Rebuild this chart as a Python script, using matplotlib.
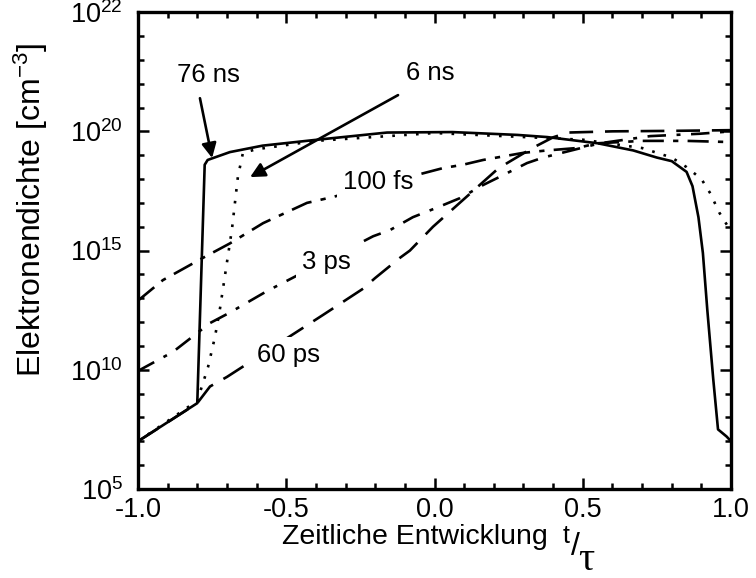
import numpy as np
import matplotlib
matplotlib.use("Agg")
import matplotlib.pyplot as plt
from matplotlib.ticker import FixedLocator, NullFormatter

plt.rcParams["font.family"] = ["Liberation Sans", "DejaVu Sans"]
plt.rcParams["mathtext.fontset"] = "custom"
plt.rcParams["mathtext.rm"] = "Liberation Sans"
plt.rcParams["mathtext.it"] = "Liberation Sans:italic"

# ---- data: t/tau and log10 of electron density [cm^-3] -----------------
x_76ns = [-1.0, -0.80, -0.775, -0.765, -0.69, -0.58, -0.41, -0.16, 0.06, 0.28,
          0.38, 0.55, 0.67, 0.75, 0.80, 0.85, 0.87, 0.89, 0.905, 0.92, 0.94,
          0.956, 0.985, 1.0]
y_76ns = [7.0, 8.6, 18.6, 18.8, 19.13, 19.4, 19.63, 19.95, 19.97, 19.85,
          19.76, 19.5, 19.2, 18.9, 18.75, 18.3, 17.7, 16.4, 14.9, 12.5, 9.6,
          7.5, 7.2, 7.0]

x_6ns = [-1.0, -0.80, -0.764, -0.74, -0.723, -0.70, -0.683, -0.673, -0.663,
         -0.646, -0.6, -0.4, 0.0, 0.5, 0.7, 0.8, 0.85, 0.9, 0.93, 0.96, 1.0]
y_6ns = [7.0, 8.7, 10.1, 11.4, 12.6, 14.5, 15.9, 17.0, 18.1, 19.1, 19.25,
         19.6, 19.93, 19.65, 19.3, 18.9, 18.5, 18.0, 17.4, 16.6, 15.8]

x_100fs = [-1.0, -0.916, -0.78, -0.69, -0.578, -0.43, -0.342, 0.029, 0.096,
           0.164, 0.30, 0.38, 0.48, 0.55, 0.70, 0.85, 1.0]
y_100fs = [12.9, 13.76, 14.7, 15.3, 16.15, 17.0, 17.25, 18.46, 18.6, 18.8,
           19.1, 19.2, 19.3, 19.5, 19.6, 19.6, 19.55]

x_3ps = [-1.0, -0.882, -0.757, -0.69, -0.565, -0.207, -0.15, -0.073, 0.008,
         0.086, 0.164, 0.221, 0.312, 0.366, 0.558, 0.727, 0.895, 1.0]
y_3ps = [9.95, 10.75, 11.96, 12.4, 13.3, 15.6, 15.86, 16.4, 16.8, 17.2,
         17.75, 18.1, 18.67, 18.9, 19.5, 19.8, 19.9, 20.0]

x_60ps = [-1.0, -0.80, -0.757, -0.70, -0.376, -0.241, -0.2, -0.116, -0.083,
          -0.005, 0.211, 0.245, 0.33, 0.40, 0.45, 0.6, 0.8, 1.0]
y_60ps = [7.0, 8.6, 9.3, 9.7, 12.3, 13.4, 13.85, 14.7, 15.0, 16.0, 18.4,
          18.67, 19.3, 19.75, 19.95, 20.0, 20.02, 20.05]

# curve labels: (text, t/tau, log10 n)
labels = [("76 ns", -0.764, 22.36), ("6 ns", -0.015, 22.44),
          ("100 fs", -0.19, 17.87), ("3 ps", -0.366, 14.52),
          ("60 ps", -0.494, 10.62)]
# arrows: (start t, start log n, end t, end log n)
arrows = [(-0.791, 21.39, -0.750, 18.88), (-0.123, 21.52, -0.622, 18.08)]

ytick_pos = [5, 10, 15, 20, 25]
ytick_lbl = ["5", "10", "15", "20", "22"]

# ---- figure --------------------------------------------------------------
fig = plt.figure(figsize=(7.56, 5.78), dpi=100)
ax = fig.add_axes([0.1825, 0.154, 0.7845, 0.825])

lw = 1.9
ax.plot(x_60ps, 10.0 ** np.array(y_60ps), color="k", lw=lw,
        ls=(0, (9, 4.5)))
ax.plot(x_3ps, 10.0 ** np.array(y_3ps), color="k", lw=lw,
        ls=(0, (7, 4, 1.5, 4)))
ax.plot(x_100fs, 10.0 ** np.array(y_100fs), color="k", lw=lw,
        ls=(0, (8, 3.5, 2, 3.5)))
ax.plot(x_6ns, 10.0 ** np.array(y_6ns), color="k", lw=lw,
        ls=(0, (1, 3.5)))
ax.plot(x_76ns, 10.0 ** np.array(y_76ns), color="k", lw=lw, ls="-")

for txt, xt, yt in labels:
    ax.text(xt, 10.0 ** yt, txt, fontsize=18.5, ha="center", va="center",
            zorder=5, bbox=dict(fc="white", ec="none", pad=4))
for x0, y0, x1, y1 in arrows:
    ax.annotate("", xy=(x1, 10.0 ** y1), xytext=(x0, 10.0 ** y0),
                arrowprops=dict(arrowstyle="-|>", color="k", lw=1.9,
                                mutation_scale=22, shrinkA=0, shrinkB=0),
                zorder=6)

ax.set_yscale("log")
ax.set_xlim(-1.0, 1.0)
ax.set_ylim(1e5, 1e25)

ax.set_xticks([-1.0, -0.5, 0.0, 0.5, 1.0])
ax.set_xticklabels(["-1.0", "-0.5", "0.0", "0.5", "1.0"])
ax.xaxis.set_minor_locator(FixedLocator(np.arange(-1.0, 1.001, 0.1)))
ax.yaxis.set_major_locator(FixedLocator([10.0 ** p for p in ytick_pos]))
ax.set_yticklabels([r"$\mathregular{10^{%s}}$" % s for s in ytick_lbl])
ax.yaxis.set_minor_locator(FixedLocator([10.0 ** p for p in range(5, 26)]))
ax.yaxis.set_minor_formatter(NullFormatter())

ax.tick_params(which="both", direction="in", top=True, right=True,
               width=1.8, labelsize=19.5)
ax.tick_params(which="major", length=8)
ax.tick_params(which="minor", length=4)
ax.tick_params(axis="x", pad=6)
ax.tick_params(axis="y", pad=11)
for sp in ax.spines.values():
    sp.set_linewidth(2.4)

ax.set_ylabel(r"Elektronendichte [cm$^{\mathregular{-3}}$]", fontsize=23)
ax.yaxis.set_label_coords(-0.148, 0.585)

# x label with the slanted t/tau fraction drawn as separate pieces
ax.set_xlabel("Zeitliche Entwicklung", fontsize=20.5, va="center")
ax.xaxis.set_label_coords(0.467, -0.100)
ax.text(0.722, -0.098, "t", transform=ax.transAxes, fontsize=18,
        ha="center", va="center", clip_on=False)
ax.text(0.738, -0.122, "/", transform=ax.transAxes, fontsize=23,
        ha="center", va="center", clip_on=False)
ax.text(0.756, -0.150, "τ", transform=ax.transAxes, fontsize=29,
        ha="center", va="center", clip_on=False,
        family=["Liberation Serif", "DejaVu Serif"])

fig.savefig("out.png", dpi=100)
